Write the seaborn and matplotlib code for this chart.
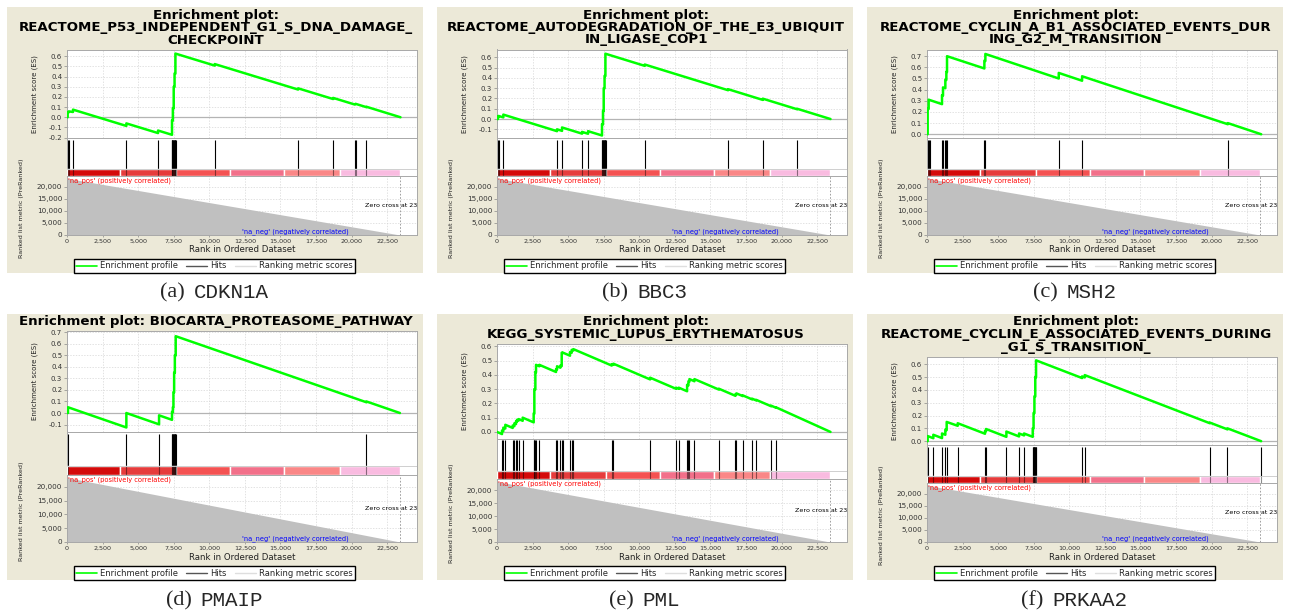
import matplotlib
matplotlib.use("Agg")
import matplotlib.pyplot as plt
import seaborn as sns
from matplotlib.patches import Rectangle
from matplotlib.lines import Line2D
from matplotlib.ticker import MultipleLocator, FuncFormatter

# ------------------------------------------------------------------ data
GENES = ["CDKN1A", "BBC3", "MSH2", "PMAIP", "PML", "PRKAA2"]
TAGS = ["(a)", "(b)", "(c)", "(d)", "(e)", "(f)"]

TITLE_A = ["Enrichment plot:", "REACTOME_P53_INDEPENDENT_G1_S_DNA_DAMAGE_", "CHECKPOINT"]
TITLE_B = ["Enrichment plot:", "REACTOME_AUTODEGRADATION_OF_THE_E3_UBIQUIT", "IN_LIGASE_COP1"]
TITLE_C = ["Enrichment plot:", "REACTOME_CYCLIN_A_B1_ASSOCIATED_EVENTS_DUR", "ING_G2_M_TRANSITION"]
TITLE_D = ["Enrichment plot: BIOCARTA_PROTEASOME_PATHWAY"]
TITLE_E = ["Enrichment plot:", "KEGG_SYSTEMIC_LUPUS_ERYTHEMATOSUS"]
TITLE_F = ["Enrichment plot:", "REACTOME_CYCLIN_E_ASSOCIATED_EVENTS_DURING", "_G1_S_TRANSITION_"]

# running enrichment score: (rank, ES) vertices
ES_A = [(0, 0.0), (47, 0.0), (47, 0.05), (117, 0.048), (117, 0.058), (422, 0.052), (422, 0.075),
        (4172, -0.085), (4172, -0.06), (6399, -0.155), (6399, -0.13), (7380, -0.172), (7380, -0.03),
        (7440, -0.032), (7440, 0.09), (7500, 0.088), (7500, 0.3), (7560, 0.298), (7560, 0.43),
        (7620, 0.428), (7620, 0.625), (10384, 0.507), (10384, 0.522), (16244, 0.272), (16244, 0.284),
        (18705, 0.179), (18705, 0.19), (20230, 0.125), (20280, 0.132), (21050, 0.099), (21050, 0.103),
        (23440, 0.0)]
ES_B = [(0, 0.0), (70, 0.0), (70, 0.025), (110, 0.023), (110, 0.03), (445, 0.016), (445, 0.043),
        (4219, -0.118), (4219, -0.1), (4571, -0.115), (4571, -0.082), (5977, -0.142), (5977, -0.125),
        (6400, -0.143), (6400, -0.118), (7380, -0.16), (7380, -0.05), (7450, -0.052), (7450, 0.08),
        (7500, 0.078), (7500, 0.3), (7560, 0.298), (7560, 0.42), (7620, 0.418), (7620, 0.635),
        (10384, 0.517), (10384, 0.53), (16244, 0.28), (16244, 0.29), (18681, 0.186), (18681, 0.198),
        (21095, 0.095), (21095, 0.1), (23440, 0.0)]
ES_C = [(0, 0.0), (47, 0.0), (47, 0.23), (117, 0.227), (117, 0.31), (1055, 0.27), (1055, 0.35),
        (1125, 0.347), (1125, 0.42), (1289, 0.413), (1289, 0.49), (1360, 0.487), (1360, 0.56),
        (1407, 0.558), (1407, 0.70), (4032, 0.59), (4032, 0.66), (4102, 0.657), (4102, 0.72),
        (9260, 0.5), (9260, 0.55), (10900, 0.48), (10900, 0.52), (21143, 0.09), (21143, 0.1),
        (23490, 0.0)]
ES_D = [(0, 0.0), (70, 0.0), (70, 0.05), (4172, -0.125), (4172, 0.0), (6470, -0.098), (6470, -0.02),
        (7380, -0.059), (7380, 0.01), (7440, 0.008), (7440, 0.05), (7480, 0.048), (7480, 0.18),
        (7530, 0.178), (7530, 0.35), (7580, 0.348), (7580, 0.5), (7640, 0.498), (7640, 0.665),
        (21049, 0.093), (21049, 0.1), (23400, 0.0)]
ES_E = [(0, 0.0), (352, -0.015), (352, 0.01), (445, 0.006), (445, 0.03), (586, 0.024), (586, 0.05),
        (1102, 0.028), (1102, 0.045), (1219, 0.04), (1219, 0.06), (1336, 0.055), (1336, 0.075),
        (1406, 0.072), (1406, 0.085), (1524, 0.08), (1524, 0.09), (1805, 0.078), (1805, 0.1),
        (2578, 0.067), (2578, 0.13), (2625, 0.128), (2625, 0.3), (2696, 0.297), (2696, 0.42),
        (2743, 0.418), (2743, 0.47), (2977, 0.46), (2977, 0.47), (4149, 0.42), (4149, 0.44),
        (4219, 0.437), (4219, 0.46), (4454, 0.45), (4454, 0.465), (4548, 0.461), (4548, 0.555),
        (4618, 0.552), (4618, 0.556), (5133, 0.534), (5133, 0.56), (5251, 0.555), (5251, 0.575),
        (5368, 0.57), (5368, 0.58), (8064, 0.465), (8064, 0.475), (8181, 0.47), (8181, 0.478),
        (10760, 0.368), (10760, 0.38), (12588, 0.302), (12588, 0.31), (12775, 0.302), (12775, 0.31),
        (13361, 0.285), (13361, 0.33), (13455, 0.326), (13455, 0.355), (13525, 0.352), (13525, 0.37),
        (13877, 0.355), (13877, 0.37), (15588, 0.297), (15588, 0.303), (16760, 0.253), (16760, 0.265),
        (16830, 0.262), (16830, 0.27), (17275, 0.251), (17275, 0.256), (17932, 0.228), (17932, 0.233),
        (18213, 0.221), (18213, 0.225), (19268, 0.18), (19268, 0.184), (19620, 0.169), (19620, 0.172),
        (23440, 0.0)]
ES_F = [(0, 0.0), (47, 0.0), (47, 0.04), (445, 0.023), (445, 0.05), (1055, 0.024), (1055, 0.06),
        (1289, 0.05), (1289, 0.09), (1383, 0.086), (1383, 0.15), (2157, 0.12), (2157, 0.14),
        (4078, 0.058), (4078, 0.08), (4149, 0.077), (4149, 0.095), (5579, 0.034), (5579, 0.075),
        (6470, 0.037), (6470, 0.06), (6821, 0.045), (6821, 0.06), (7431, 0.034), (7431, 0.1),
        (7490, 0.098), (7490, 0.22), (7550, 0.218), (7550, 0.35), (7610, 0.348), (7610, 0.5),
        (7665, 0.498), (7665, 0.63), (10900, 0.492), (10900, 0.505), (11087, 0.497), (11087, 0.515),
        (19878, 0.14), (19878, 0.145), (21120, 0.092), (21120, 0.1), (23487, 0.0)]

# ranks of gene-set members in the ordered list
HITS_A = [47, 117, 422, 4172, 6399, 7350, 7380, 7410, 7440, 7470, 7500, 7530, 7560, 7590, 7620, 7650,
          10384, 16244, 18705, 20230, 20280, 21050]
HITS_B = [70, 110, 445, 4219, 4571, 5977, 6400, 7380, 7410, 7440, 7470, 7500, 7530, 7560, 7590, 7620,
          7650, 10384, 16244, 18681, 21095]
HITS_C = [47, 117, 188, 1055, 1125, 1289, 1360, 1407, 4032, 4102, 9260, 10900, 21143]
HITS_D = [70, 4172, 6470, 7380, 7410, 7440, 7470, 7500, 7530, 7560, 7590, 7620, 7650, 21049]
HITS_E = [352, 445, 586, 1102, 1219, 1336, 1406, 1524, 1805, 2578, 2625, 2696, 2743, 2977, 4149, 4219,
          4454, 4548, 4618, 5133, 5251, 5368, 8064, 8181, 10760, 12588, 12775, 13361, 13455, 13525,
          13877, 15588, 16760, 16830, 17275, 17932, 18213, 19268, 19620]
HITS_F = [47, 445, 1055, 1289, 1383, 2157, 4078, 4149, 5579, 6470, 6821, 7431, 7460, 7490, 7520, 7550,
          7580, 7610, 7640, 7665, 10900, 11087, 19878, 21120, 23487]

ES_YLIM = [(-0.205, 0.665), (-0.186, 0.676), (-0.035, 0.76),
           (-0.163, 0.71), (-0.047, 0.616), (-0.031, 0.66)]

# ranked-list metric (PreRanked) and the correlation colour strip
METRIC_RANK = [0, 23400]
METRIC_VALUE = [23400, 0]
ZERO_CROSS = 23400
BAR_EDGES = [0, 3710, 7665, 11486, 15225, 19210, 23393]
BAR_COLORS = ["#d40a0a", "#e63c3c", "#f45252", "#f2708a", "#fa8787", "#f9bbe0"]

TITLES = [TITLE_A, TITLE_B, TITLE_C, TITLE_D, TITLE_E, TITLE_F]
ES_ALL = [ES_A, ES_B, ES_C, ES_D, ES_E, ES_F]
HITS_ALL = [HITS_A, HITS_B, HITS_C, HITS_D, HITS_E, HITS_F]

# ------------------------------------------------------------------ style
sns.set_style("white")
plt.rcParams["font.family"] = ["DejaVu Sans"]

W, H = 1289, 614
fig = plt.figure(figsize=(W / 100, H / 100), dpi=100, facecolor="white")

COL_X = [7, 437, 867]
ROW_Y = [7, 314]
PANEL_W, PANEL_H = 416, 266
TOP_PAD = {1: 17, 2: 30, 3: 42.5}
XMAX = 24600
GREEN = "#00ff00"
BEIGE = "#ece9d8"
SPINE = "#a8a8a8"
GRID = "#d6d6d6"


def px_axes(l, t, w, h):
    return fig.add_axes([l / W, 1 - (t + h) / H, w / W, h / H])


def ftext(x, y, s, **kw):
    return fig.text(x / W, 1 - y / H, s, **kw)


def style_frame(ax):
    for sp in ax.spines.values():
        sp.set_color(SPINE)
        sp.set_linewidth(0.7)
    ax.set_facecolor("white")


es_fmt = FuncFormatter(lambda v, p: ("%.1f" % v).replace("-0.0", "0.0"))
comma_fmt = FuncFormatter(lambda v, p: "{:,.0f}".format(v))

captions = []
for i in range(6):
    r, c = divmod(i, 3)
    x0, y0 = COL_X[c], ROW_Y[r]
    fig.add_artist(Rectangle((x0 / W, 1 - (y0 + PANEL_H) / H), PANEL_W / W, PANEL_H / H,
                             transform=fig.transFigure, facecolor=BEIGE, edgecolor="none",
                             zorder=-10))

    left, aw = x0 + 60, 350
    top = y0 + TOP_PAD[len(TITLES[i])]
    bottom = y0 + 228
    tot = bottom - top
    h_es = 0.478 * tot
    h_mid = 0.205 * tot
    h_met = tot - h_es - h_mid

    # --- enrichment score
    ax = px_axes(left, top, aw, h_es)
    style_frame(ax)
    ranks = [p[0] for p in ES_ALL[i]]
    scores = [p[1] for p in ES_ALL[i]]
    ax.axhline(0, color="#b4b4b4", lw=0.9, zorder=1)
    sns.lineplot(x=ranks, y=scores, estimator=None, sort=False, color=GREEN,
                 linewidth=1.8, ax=ax, zorder=3)
    ax.set_xlim(0, XMAX)
    ax.set_ylim(*ES_YLIM[i])
    ax.xaxis.set_major_locator(MultipleLocator(2500))
    ax.yaxis.set_major_locator(MultipleLocator(0.1))
    ax.yaxis.set_major_formatter(es_fmt)
    ax.tick_params(axis="x", bottom=False, labelbottom=False)
    ax.tick_params(axis="y", left=True, length=2, width=0.5, color="#888888",
                   labelsize=5, pad=1.5, labelcolor="#333333")
    ax.grid(True, color=GRID, lw=0.5, ls=(0, (2, 2)))
    ax.set_xlabel("")
    ax.set_ylabel("")

    # --- hits + correlation strip
    axh = px_axes(left, top + h_es, aw, h_mid)
    style_frame(axh)
    axh.set_xlim(0, XMAX)
    axh.set_ylim(0, 1)
    axh.vlines(HITS_ALL[i], 0.2, 0.96, color="black", lw=0.8, zorder=2)
    segs = [(BAR_EDGES[k], BAR_EDGES[k + 1] - BAR_EDGES[k]) for k in range(len(BAR_COLORS))]
    axh.broken_barh(segs, (0, 0.2), facecolors=BAR_COLORS, zorder=3)
    axh.vlines(HITS_ALL[i], 0.0, 0.2, color="black", lw=0.8, alpha=0.45, zorder=4)
    axh.axhline(0.2, color="#c8c8c8", lw=0.6, zorder=5)
    axh.set_xticks([])
    axh.set_yticks([])

    # --- ranked list metric
    axm = px_axes(left, top + h_es + h_mid, aw, h_met)
    style_frame(axm)
    axm.fill_between(METRIC_RANK, METRIC_VALUE, 0, color="#c0c0c0", lw=0, zorder=2)
    axm.axvline(ZERO_CROSS, color="#909090", lw=0.6, ls=(0, (2, 2)), zorder=3)
    axm.set_xlim(0, XMAX)
    axm.set_ylim(0, 24300)
    axm.xaxis.set_major_locator(MultipleLocator(2500))
    axm.yaxis.set_major_locator(MultipleLocator(5000))
    axm.xaxis.set_major_formatter(comma_fmt)
    axm.yaxis.set_major_formatter(comma_fmt)
    axm.tick_params(axis="x", bottom=True, length=1.5, width=0.5, color="#888888",
                    labelsize=4.6, pad=1.5, labelcolor="#333333")
    axm.tick_params(axis="y", left=True, length=2, width=0.5, color="#888888",
                    labelsize=5.2, pad=1.5, labelcolor="#333333")
    axm.grid(True, color=GRID, lw=0.5, ls=(0, (2, 2)), zorder=1)
    axm.set_axisbelow(True)
    axm.text(0.004, 0.99, "'na_pos' (positively correlated)", transform=axm.transAxes,
             color="#ff0000", fontsize=4.8, ha="left", va="top", zorder=5)
    axm.text(12306, 150, "'na_neg' (negatively correlated)", color="#0000ff",
             fontsize=4.8, ha="left", va="bottom", zorder=5)
    axm.text(20980, 12245, "Zero cross at 23400", color="black", fontsize=4.6,
             ha="left", va="center", zorder=5, clip_on=True)

    # --- labels around the plot
    ftext(x0 + 28, top + h_es / 2, "Enrichment score (ES)", rotation=90,
          ha="center", va="center", fontsize=5, color="#222222")
    ftext(x0 + 15, top + h_es + h_mid + h_met / 2 + 3, "Ranked list metric (PreRanked)",
          rotation=90, ha="center", va="center", fontsize=4.6, color="#222222")
    ftext(left + aw / 2, bottom + 15, "Rank in Ordered Dataset", ha="center", va="center",
          fontsize=6.2, color="#222222")
    for j, line in enumerate(TITLES[i]):
        ftext(x0 + 209, y0 + 8 + 12.5 * j, line, ha="center", va="center",
              fontsize=9.6, weight="bold", color="black")

    handles = [Line2D([], [], color=GREEN, lw=1.2),
               Line2D([], [], color="#555555", lw=1.0),
               Line2D([], [], color="#dedede", lw=1.0)]
    fig.legend(handles, ["Enrichment profile", "Hits", "Ranking metric scores"],
               loc="center", bbox_to_anchor=((x0 + 207.5) / W, 1 - (y0 + 259) / H),
               ncol=3, fontsize=6, frameon=True, fancybox=False, edgecolor="black",
               framealpha=1, borderpad=0.25, handlelength=2.5, handletextpad=0.4,
               columnspacing=1.0, borderaxespad=0)

    cy = 293 if r == 0 else 601
    t1 = ftext(0, cy, TAGS[i], family="Liberation Serif", fontsize=16, ha="left", va="center")
    t2 = ftext(0, cy, GENES[i], family="Liberation Mono", fontsize=15, ha="left", va="center")
    captions.append((x0 + 207.5, cy, t1, t2))

# centre each caption pair "(x) NAME" under its panel
fig.canvas.draw()
rend = fig.canvas.get_renderer()
GAP = 9
for cx, cy, t1, t2 in captions:
    w1 = t1.get_window_extent(rend).width
    w2 = t2.get_window_extent(rend).width
    start = cx - (w1 + GAP + w2) / 2
    t1.set_position((start / W, 1 - cy / H))
    t2.set_position(((start + w1 + GAP) / W, 1 - cy / H))

fig.savefig("out.png", dpi=100, facecolor="white")
